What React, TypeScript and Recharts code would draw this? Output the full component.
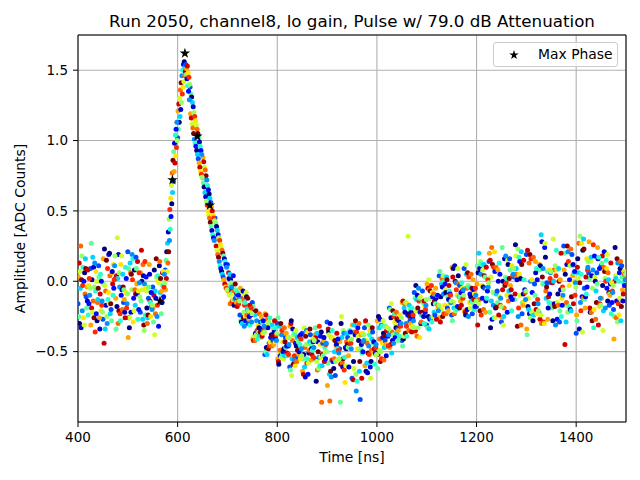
import React from 'react';
import { ScatterChart, Scatter, XAxis, YAxis, CartesianGrid, ReferenceArea } from 'recharts';

const FONT = '"DejaVu Sans", Verdana, sans-serif';

const TITLE = 'Run 2050, channel8, lo gain, Pulse w/ 79.0 dB Attenuation';
const X_LABEL = 'Time [ns]';
const Y_LABEL = 'Amplitude [ADC Counts]';
const LEGEND_LABEL = 'Max Phase';

const X_TICKS = [400, 600, 800, 1000, 1200, 1400];
const Y_TICKS = [-0.5, 0, 0.5, 1, 1.5];

// base sample times (25 ns sampling) and per-phase offsets
const SAMPLE_TIMES = [
  400, 425, 450, 475, 500, 525, 550, 575, 600, 625, 650, 675, 700, 725, 750,
  775, 800, 825, 850, 875, 900, 925, 950, 975, 1000, 1025, 1050, 1075, 1100,
  1125, 1150, 1175, 1200, 1225, 1250, 1275, 1300, 1325, 1350, 1375, 1400,
  1425, 1450, 1475,
];
const PHASE_OFFSETS = [
  0, 0.78, 1.56, 2.34, 3.13, 3.91, 4.69, 5.47, 6.25, 7.03, 7.81, 8.59, 9.38,
  10.16, 10.94, 11.72, 12.5, 13.28, 14.06, 14.84, 15.63, 16.41, 17.19, 17.97,
  18.75, 19.53, 20.31, 21.09, 21.88, 22.66, 23.44, 24.22,
];
const JET_COLORS = [
  '#000080', '#0000cd', '#0008ff', '#004cff', '#0091ff', '#00d4ff', '#29ffcd',
  '#60ff97', '#97ff60', '#cdff29', '#ffe600', '#ffa700', '#ff6800', '#ff2900',
  '#cd0000', '#800000',
];
// colour (jet index) of each phase row
const PHASE_COLOR_INDEX = [
  3, 11, 7, 14, 0, 9, 5, 12, 1, 15, 8, 4, 13, 6, 10, 2,
  9, 0, 12, 5, 15, 3, 7, 11, 1, 14, 6, 10, 2, 13, 4, 8,
];

const PHASE_00 = [-0.16, 0.09, -0.27, 0.02, 0.21, -0.22, -0.04, 0.08, 1.02, 1.38, 0.74, 0.45, 0.12, -0.24, -0.15, -0.52, -0.30, -0.61, -0.37, -0.55, -0.29, -0.48, -0.69, -0.33, -0.51, -0.19, -0.42, -0.08, -0.31, 0.04, -0.24, 0.09, -0.18, 0.14, -0.29, 0.03, 0.19, -0.22, -0.01, 0.25, -0.37, 0.06, 0.11, -0.20];
const PHASE_01 = [0.03, -0.31, 0.16, -0.12, -0.40, 0.06, -0.19, -0.06, 1.21, 1.19, 0.88, 0.30, -0.07, -0.05, -0.41, -0.23, -0.55, -0.32, -0.64, -0.38, -0.74, -0.43, -0.31, -0.60, -0.28, -0.47, -0.15, -0.36, -0.02, -0.26, 0.10, -0.21, -0.02, 0.20, -0.26, 0.04, -0.34, 0.12, -0.16, 0.08, -0.24, 0.28, -0.12, -0.41];
const PHASE_02 = [-0.25, 0.27, -0.02, -0.34, 0.09, -0.14, -0.29, 0.15, 1.08, 1.33, 0.70, 0.41, -0.03, -0.28, -0.18, -0.50, -0.26, -0.63, -0.55, -0.33, -0.58, -0.86, -0.36, -0.29, -0.62, -0.20, -0.46, -0.12, -0.33, 0.07, -0.28, -0.05, 0.11, -0.22, 0.24, -0.13, -0.38, 0.08, -0.19, 0.20, -0.28, 0.02, 0.13, -0.25];
const PHASE_03 = [0.13, -0.19, -0.44, 0.04, -0.26, 0.22, -0.10, 0.02, 1.26, 1.16, 0.85, 0.25, 0.06, -0.12, -0.42, -0.24, -0.57, -0.30, -0.66, -0.40, -0.34, -0.59, -0.70, -0.28, -0.52, -0.45, -0.14, -0.35, -0.05, -0.29, 0.03, -0.22, -0.31, 0.15, -0.06, -0.09, 0.22, -0.27, -0.01, -0.45, 0.10, -0.19, 0.18, 0.00];
const PHASE_04 = [-0.30, 0.01, 0.23, -0.18, -0.33, 0.00, 0.08, 0.21, 1.13, 1.31, 0.67, 0.39, 0.02, -0.29, -0.22, -0.47, -0.59, -0.28, -0.52, -0.71, -0.36, -0.30, -0.57, -0.64, -0.25, -0.26, -0.41, -0.03, -0.25, -0.11, 0.09, -0.24, 0.06, -0.33, 0.00, 0.26, -0.18, 0.11, -0.28, 0.05, 0.16, -0.22, -0.03, 0.24];
const PHASE_05 = [0.07, -0.22, -0.03, 0.31, -0.26, -0.06, -0.38, 0.07, 1.30, 1.12, 0.81, 0.22, -0.10, -0.09, -0.39, -0.31, -0.51, -0.67, -0.33, -0.57, -0.38, -0.25, -0.62, -0.42, -0.49, -0.16, -0.39, -0.21, 0.01, -0.20, -0.15, 0.12, -0.16, 0.03, -0.31, 0.18, -0.12, -0.24, 0.30, -0.17, 0.02, 0.14, -0.35, 0.04];
const PHASE_06 = [-0.05, 0.17, -0.34, 0.02, 0.13, -0.27, -0.07, 0.27, 1.17, 1.27, 0.63, 0.36, 0.05, -0.30, -0.24, -0.52, -0.32, -0.55, -0.61, -0.37, -0.66, -0.40, -0.31, -0.58, -0.33, -0.51, -0.19, -0.13, -0.34, -0.02, -0.19, 0.05, 0.20, -0.14, -0.25, 0.09, -0.20, 0.33, 0.00, -0.29, 0.06, 0.17, -0.21, 0.02];
const PHASE_07 = [0.25, -0.14, -0.07, -0.30, 0.06, 0.12, -0.23, 0.13, 1.36, 1.09, 0.79, 0.19, -0.16, -0.13, -0.42, -0.27, -0.49, -0.42, -0.47, -0.63, -0.85, -0.58, -0.36, -0.44, -0.41, -0.36, -0.16, -0.39, -0.06, 0.02, -0.23, -0.05, -0.13, 0.24, -0.19, 0.05, 0.13, -0.30, 0.08, -0.15, 0.27, -0.22, 0.10, -0.26];
const PHASE_08 = [-0.33, 0.10, -0.17, 0.19, -0.22, 0.04, -0.12, 0.35, 1.22, 1.24, 0.60, 0.33, 0.01, -0.07, -0.37, -0.33, -0.53, -0.34, -0.68, -0.43, -0.30, -0.61, -0.38, -0.65, -0.27, -0.42, -0.22, -0.10, -0.27, -0.04, 0.11, -0.20, 0.09, -0.27, 0.16, 0.01, -0.23, 0.28, -0.16, 0.12, -0.34, 0.04, 0.21, -0.14];
const PHASE_09 = [0.01, -0.26, 0.15, -0.21, 0.05, -0.31, 0.16, 0.21, 1.41, 1.05, 0.75, 0.17, -0.06, -0.26, -0.21, -0.48, -0.30, -0.59, -0.39, -0.50, -0.64, -0.55, -0.28, -0.51, -0.57, -0.21, -0.37, -0.19, -0.07, -0.25, 0.00, 0.06, -0.21, 0.12, -0.03, -0.32, 0.19, 0.03, -0.18, 0.25, -0.01, -0.28, 0.07, 0.16];
const PHASE_10 = [0.18, -0.04, -0.25, 0.06, -0.06, -0.35, 0.03, 0.44, 1.27, 1.20, 0.57, 0.31, -0.01, -0.22, -0.38, -0.29, -0.54, -0.38, -0.45, -0.62, -0.40, -0.35, -0.66, -0.31, -0.50, -0.38, -0.15, -0.33, -0.12, 0.04, -0.21, -0.03, 0.14, -0.08, 0.03, 0.23, -0.26, -0.02, 0.11, -0.22, 0.32, -0.05, 0.02, -0.29];
const PHASE_11 = [-0.21, 0.13, -0.30, -0.04, 0.19, -0.02, -0.25, 0.29, 1.46, 1.01, 0.72, 0.14, -0.04, -0.32, -0.28, -0.44, -0.38, -0.56, -0.35, -0.54, -0.68, -0.37, -0.78, -0.46, -0.31, -0.44, -0.30, -0.05, -0.26, -0.09, -0.01, -0.25, 0.05, -0.17, 0.18, -0.25, 0.00, 0.09, -0.31, 0.21, -0.15, 0.08, -0.19, 0.13];
const PHASE_12 = [-0.03, -0.36, 0.09, -0.23, 0.01, 0.14, -0.17, 0.51, 1.33, 1.17, 0.54, 0.29, -0.14, -0.17, -0.35, -0.46, -0.35, -0.53, -0.58, -0.32, -0.56, -0.63, -0.36, -0.52, -0.55, -0.25, -0.32, -0.14, -0.03, -0.23, -0.06, 0.03, -0.24, 0.10, -0.01, -0.19, 0.16, -0.29, 0.04, 0.14, -0.21, 0.26, 0.00, -0.16];
const PHASE_13 = [0.10, -0.07, -0.13, -0.28, 0.16, -0.24, 0.04, 0.37, 1.50, 0.98, 0.68, 0.11, -0.08, -0.15, -0.41, -0.26, -0.52, -0.37, -0.55, -0.60, -0.35, -0.54, -0.71, -0.38, -0.32, -0.23, -0.39, -0.12, -0.29, 0.00, -0.20, -0.04, 0.12, -0.26, 0.02, 0.17, -0.22, -0.02, 0.22, -0.18, 0.05, -0.33, 0.15, 0.00];
const PHASE_14 = [-0.26, 0.07, -0.08, 0.12, -0.29, -0.05, 0.00, 0.59, 1.38, 1.14, 0.50, 0.26, -0.13, -0.25, -0.31, -0.43, -0.43, -0.60, -0.36, -0.45, -0.40, -0.72, -0.48, -0.35, -0.44, -0.29, -0.16, -0.40, -0.08, -0.17, -0.10, -0.15, -0.03, 0.21, -0.10, 0.05, 0.01, -0.30, 0.08, -0.03, 0.27, -0.20, 0.09, -0.24];
const PHASE_15 = [0.00, -0.23, 0.19, -0.10, -0.12, 0.03, -0.32, 0.46, 1.54, 0.96, 0.65, 0.09, 0.04, -0.28, -0.36, -0.40, -0.50, -0.44, -0.66, -0.39, -0.57, -0.47, -0.33, -0.61, -0.40, -0.40, -0.24, -0.22, -0.11, -0.02, -0.18, -0.09, -0.12, 0.07, -0.22, 0.14, -0.08, 0.24, -0.27, 0.01, -0.11, 0.18, -0.05, 0.06];
const PHASE_16 = [-0.31, 0.00, -0.16, 0.18, -0.21, -0.07, -0.01, 0.68, 1.42, 1.11, 0.47, 0.24, -0.09, -0.08, -0.36, -0.44, -0.55, -0.35, -0.58, -0.54, -0.41, -0.60, -0.39, -0.69, -0.28, -0.31, 0.32, -0.11, -0.25, -0.06, 0.09, -0.19, 0.08, -0.26, 0.15, -0.10, -0.22, 0.27, -0.15, 0.11, -0.36, 0.03, 0.19, -0.12];
const PHASE_17 = [0.06, -0.28, 0.20, -0.06, 0.08, -0.19, 0.11, 0.55, 1.56, 0.93, 0.62, 0.07, -0.17, -0.11, -0.33, -0.38, -0.48, -0.46, -0.51, -0.36, -0.62, -0.48, -0.42, -0.57, -0.37, -0.33, -0.23, -0.30, -0.16, -0.08, 0.04, -0.11, -0.04, -0.19, 0.12, 0.02, -0.28, 0.17, -0.09, -0.20, 0.22, 0.00, -0.14, 0.09];
const PHASE_18 = [-0.09, -0.15, 0.04, -0.20, -0.06, -0.30, 0.14, 0.77, 1.46, 1.08, 0.45, 0.22, -0.07, -0.24, -0.23, -0.46, -0.33, -0.57, -0.49, -0.86, -0.55, -0.43, -0.30, -0.49, -0.56, -0.22, -0.35, -0.29, -0.09, -0.23, -0.02, 0.05, -0.20, 0.10, -0.14, -0.31, 0.17, -0.07, -0.17, 0.23, -0.12, -0.27, 0.06, 0.14];
const PHASE_19 = [0.16, -0.13, -0.23, 0.05, -0.17, -0.26, -0.08, 0.63, 1.52, 0.90, 0.59, 0.05, -0.13, -0.20, -0.39, -0.31, -0.53, -0.40, -0.43, -0.60, -0.50, -0.37, -0.64, -0.41, -0.47, -0.37, -0.17, -0.24, -0.22, 0.03, -0.11, -0.14, 0.12, -0.09, -0.07, 0.21, -0.24, -0.12, 0.09, -0.21, 0.30, -0.07, 0.01, -0.28];
const PHASE_20 = [0.09, -0.05, -0.16, -0.04, -0.09, -0.24, 0.02, 0.86, 1.49, 1.05, 0.42, 0.20, -0.02, -0.12, -0.36, -0.39, -0.43, -0.49, -0.34, -0.52, -0.42, -0.45, -0.57, -0.33, -0.39, -0.27, -0.25, -0.22, -0.14, 0.01, -0.19, -0.05, 0.04, -0.18, 0.02, 0.12, -0.16, -0.04, 0.00, -0.11, 0.23, -0.15, -0.08, -0.18];
const PHASE_21 = [-0.11, 0.11, -0.20, -0.15, 0.17, -0.12, -0.15, 0.71, 1.54, 0.87, 0.56, 0.03, -0.12, -0.30, -0.29, -0.42, -0.40, -0.54, -0.38, -0.44, -0.67, -0.40, -0.84, -0.36, -0.42, -0.34, -0.28, -0.07, -0.24, -0.19, -0.03, -0.23, -0.05, -0.07, 0.16, -0.23, -0.02, -0.01, -0.29, 0.19, -0.05, 0.06, -0.17, 0.11];
const PHASE_22 = [-0.19, 0.03, -0.28, -0.06, 0.09, -0.04, -0.23, 0.92, 1.47, 1.02, 0.39, 0.18, -0.06, -0.21, -0.40, -0.34, -0.47, -0.43, -0.45, -0.53, -0.57, -0.47, -0.48, -0.44, -0.32, -0.42, -0.20, -0.15, -0.16, -0.11, -0.11, -0.15, 0.03, -0.15, 0.08, -0.15, -0.10, 0.07, -0.21, 0.11, -0.13, -0.02, -0.09, 0.03];
const PHASE_23 = [-0.04, -0.26, 0.06, -0.13, -0.02, 0.12, -0.07, 0.78, 1.51, 0.84, 0.53, 0.01, -0.15, -0.27, -0.25, -0.45, -0.37, -0.52, -0.56, -0.42, -0.46, -0.53, -0.38, -0.50, -0.45, -0.35, -0.30, -0.24, -0.05, -0.21, -0.14, 0.01, -0.22, 0.08, -0.03, -0.17, 0.14, -0.27, 0.01, 0.04, -0.19, 0.24, -0.10, -0.06];
const PHASE_24 = [-0.14, -0.34, 0.07, -0.22, -0.09, 0.05, -0.15, 0.98, 1.44, 0.99, 0.36, 0.16, -0.09, -0.25, -0.34, -0.36, -0.46, -0.50, -0.48, -0.40, -0.45, -0.61, -0.45, -0.43, -0.53, -0.28, -0.22, -0.25, -0.12, -0.13, -0.08, -0.06, -0.14, 0.00, -0.11, -0.09, 0.06, -0.19, -0.06, 0.12, -0.11, 0.16, -0.02, -0.14];
const PHASE_25 = [0.08, -0.09, -0.02, -0.26, 0.14, -0.14, 0.06, 0.84, 1.53, 0.81, 0.50, -0.02, -0.18, -0.17, -0.39, -0.28, -0.51, -0.39, -0.52, -0.57, -0.37, -0.44, -0.69, -0.48, -0.35, -0.26, -0.36, -0.14, -0.27, -0.03, -0.17, -0.13, 0.10, -0.24, -0.06, 0.15, -0.20, -0.11, 0.20, -0.16, 0.03, -0.31, 0.13, -0.09];
const PHASE_26 = [-0.24, 0.05, -0.10, 0.10, -0.27, -0.15, -0.03, 1.04, 1.39, 0.96, 0.33, 0.14, -0.08, -0.31, -0.29, -0.33, -0.53, -0.45, -0.49, -0.47, -0.48, -0.35, -0.51, -0.59, -0.46, -0.39, -0.19, -0.30, -0.10, -0.07, -0.01, -0.20, -0.12, 0.13, -0.21, 0.01, 0.09, -0.15, -0.25, 0.06, -0.09, 0.17, -0.23, -0.01];
const PHASE_27 = [-0.03, -0.21, 0.12, -0.08, -0.07, -0.25, 0.07, 0.89, 1.48, 0.78, 0.47, -0.04, -0.11, -0.22, -0.37, -0.43, -0.40, -0.55, -0.41, -0.50, -0.56, -0.42, -0.37, -0.52, -0.33, -0.24, -0.32, -0.18, -0.20, -0.16, -0.05, -0.09, -0.06, -0.11, 0.11, -0.14, -0.23, 0.08, -0.12, 0.00, 0.16, -0.18, -0.01, 0.07];
const PHASE_28 = [-0.16, 0.00, -0.05, 0.02, -0.20, -0.08, -0.11, 1.08, 1.35, 0.93, 0.31, 0.12, -0.10, -0.24, -0.28, -0.41, -0.46, -0.38, -0.43, -0.55, -0.41, -0.36, -0.50, -0.51, -0.39, -0.31, -0.26, -0.22, -0.10, -0.09, -0.07, -0.18, -0.07, 0.05, -0.13, -0.06, 0.01, -0.09, -0.17, 0.07, -0.04, 0.09, -0.15, -0.03];
const PHASE_29 = [0.02, -0.17, 0.01, -0.19, 0.06, -0.18, -0.04, 0.95, 1.45, 0.76, 0.45, -0.05, -0.16, -0.19, -0.35, -0.38, -0.52, -0.41, -0.54, -0.45, -0.49, -0.44, -0.43, -0.47, -0.46, -0.32, -0.24, -0.20, -0.17, -0.10, -0.12, -0.05, 0.01, -0.17, 0.04, -0.08, -0.13, 0.02, -0.04, -0.10, 0.08, -0.16, -0.07, 0.05];
const PHASE_30 = [-0.10, -0.14, 0.11, -0.16, -0.01, -0.20, 0.05, 1.13, 1.29, 0.90, 0.29, 0.10, -0.13, -0.29, -0.32, -0.42, -0.45, -0.48, -0.47, -0.44, -0.51, -0.48, -0.42, -0.45, -0.38, -0.30, -0.28, -0.17, -0.21, -0.15, -0.06, -0.10, -0.04, -0.12, 0.05, -0.13, -0.16, 0.06, -0.10, -0.01, 0.10, -0.12, -0.08, 0.01];
const PHASE_31 = [-0.05, -0.22, 0.18, -0.09, -0.11, -0.17, -0.01, 1.00, 1.40, 0.74, 0.43, -0.06, -0.14, -0.23, -0.36, -0.37, -0.40, -0.53, -0.42, -0.50, -0.55, -0.41, -0.38, -0.52, -0.34, -0.26, -0.33, -0.13, -0.17, -0.14, -0.10, -0.14, -0.01, -0.18, 0.09, -0.07, -0.21, 0.07, -0.06, -0.04, 0.14, -0.17, -0.03, 0.05];

const PHASES = [
  PHASE_00, PHASE_01, PHASE_02, PHASE_03, PHASE_04, PHASE_05, PHASE_06, PHASE_07,
  PHASE_08, PHASE_09, PHASE_10, PHASE_11, PHASE_12, PHASE_13, PHASE_14, PHASE_15,
  PHASE_16, PHASE_17, PHASE_18, PHASE_19, PHASE_20, PHASE_21, PHASE_22, PHASE_23,
  PHASE_24, PHASE_25, PHASE_26, PHASE_27, PHASE_28, PHASE_29, PHASE_30, PHASE_31,
];

const MAX_PHASE_TIMES = [564.6, 589.6, 614.6, 639.6, 664.6];
const MAX_PHASE_VALUES = [-0.14, 0.72, 1.62, 1.03, 0.54];

const phaseData = PHASES.map((vals, p) =>
  vals.map((y, k) => ({ x: SAMPLE_TIMES[k] + PHASE_OFFSETS[p], y }))
);
const maxPhaseData = MAX_PHASE_TIMES.map((x, i) => ({ x, y: MAX_PHASE_VALUES[i] }));
const colorOf = (p: number) => JET_COLORS[PHASE_COLOR_INDEX[p]];

function starPath(cx: number, cy: number, R: number) {
  const r = R * 0.382;
  let d = '';
  for (let i = 0; i < 10; i++) {
    const rad = i % 2 === 0 ? R : r;
    const a = -Math.PI / 2 + (i * Math.PI) / 5;
    d += (i === 0 ? 'M' : 'L') + (cx + rad * Math.cos(a)).toFixed(2) + ',' + (cy + rad * Math.sin(a)).toFixed(2);
  }
  return d + 'Z';
}

const fmtY = (v: number) => (v < 0 ? '\u2212' + Math.abs(v).toFixed(1) : v.toFixed(1));

const tickStyle = { fontSize: 13.5, fill: '#000', fontFamily: FONT };

export default function App() {
  return (
    <div style={{ position: 'absolute', left: 0, top: 0, width: 640, height: 480, background: '#fff', fontFamily: FONT }}>
      <div
        style={{
          position: 'absolute', left: 78, top: 13, width: 548, textAlign: 'center',
          fontSize: 16.7, lineHeight: 1, color: '#000', whiteSpace: 'nowrap',
        }}
      >
        {TITLE}
      </div>
      <ScatterChart width={640} height={480} margin={{ top: 35, right: 14, bottom: 17, left: 0 }}>
        <CartesianGrid stroke="#b0b0b0" strokeWidth={1.1} />
        <XAxis
          type="number"
          dataKey="x"
          domain={[400, 1500]}
          ticks={X_TICKS}
          allowDataOverflow
          height={41}
          axisLine={false}
          tickLine={{ stroke: '#000', strokeWidth: 1 }}
          tickSize={5}
          tickMargin={5}
          tick={tickStyle}
          label={{ value: X_LABEL, position: 'insideBottom', offset: 1, style: { fontSize: 13.9, fill: '#000', fontFamily: FONT } }}
        />
        <YAxis
          type="number"
          dataKey="y"
          domain={[-1, 1.75]}
          ticks={Y_TICKS}
          allowDataOverflow
          width={78}
          axisLine={false}
          tickLine={{ stroke: '#000', strokeWidth: 1 }}
          tickSize={5}
          tickMargin={5}
          tick={tickStyle}
          tickFormatter={fmtY}
          label={{ value: Y_LABEL, angle: -90, position: 'insideLeft', offset: 20, style: { textAnchor: 'middle', fontSize: 13.9, fill: '#000', fontFamily: FONT } }}
        />
        {phaseData.map((data, p) => (
          <Scatter
            key={p}
            data={data}
            fill={colorOf(p)}
            isAnimationActive={false}
            shape={(props: any) => <circle cx={props.cx} cy={props.cy} r={2.5} fill={colorOf(p)} />}
          />
        ))}
        <Scatter
          data={maxPhaseData}
          fill="#000"
          isAnimationActive={false}
          shape={(props: any) => <path d={starPath(props.cx, props.cy, 5.5)} fill="#000" />}
        />
        <ReferenceArea x1={400} x2={1500} y1={-1} y2={1.75} fill="none" stroke="#000" strokeWidth={1} ifOverflow="extendDomain" />
      </ScatterChart>
      <div
        style={{
          position: 'absolute', left: 493, top: 42, width: 123, height: 23,
          border: '1px solid #cccccc', borderRadius: 3, background: 'rgba(255,255,255,0.8)',
        }}
      >
        <svg width={16} height={16} style={{ position: 'absolute', left: 12, top: 4 }}>
          <path d={starPath(8, 8, 5)} fill="#000" />
        </svg>
        <span style={{ position: 'absolute', left: 44, top: 3, fontSize: 13.9, lineHeight: '16px', color: '#000', whiteSpace: 'nowrap' }}>
          {LEGEND_LABEL}
        </span>
      </div>
    </div>
  );
}
